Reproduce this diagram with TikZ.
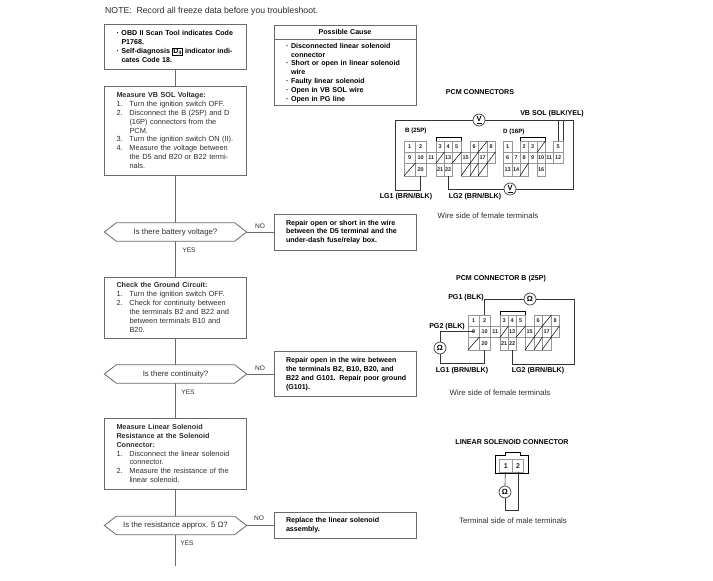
\documentclass[tikz,border=0pt]{standalone}
\usepackage{fontspec}
\setmainfont{Liberation Sans}
\definecolor{ink}{RGB}{45,45,45}
\definecolor{rule}{RGB}{105,105,105}
\definecolor{pin}{RGB}{150,150,150}
\usetikzlibrary{calc,positioning}
\newcommand{\jline}[1]{\makebox[118pt][s]{#1}}
\newcommand{\stepj}[2]{\makebox[13pt][l]{#1}\makebox[105pt][s]{#2}}
\newcommand{\stepl}[2]{\makebox[13pt][l]{#1}#2}
\newcommand{\bulj}[2]{\makebox[5pt][l]{#1}\makebox[113pt][s]{#2}}
\newcommand{\bull}[2]{\makebox[5pt][l]{#1}#2}
\setlength{\fboxrule}{0.4pt}
\setlength{\fboxsep}{0.6pt}
\tikzset{
  stepbox/.style={draw=rule, line width=0.8pt, minimum width=142pt, inner xsep=12pt, inner ysep=0pt, text width=118pt, align=left, text=ink, font=\fontsize{7.4}{8.9}\selectfont},
  boldbox/.style={stepbox, text=black, font=\fontsize{7.1}{8.8}\selectfont\bfseries},
  hexbox/.style={minimum width=142pt, minimum height=18pt, inner sep=0pt, text=ink, font=\fontsize{7.8}{8}\selectfont},
  wire/.style={draw=rule, line width=0.9pt},
  lead/.style={draw=black!80, line width=0.7pt},
  tag/.style={inner sep=0pt, text=ink, font=\fontsize{6.6}{7}\selectfont},
  boldtag/.style={inner sep=0pt, text=black, font=\fontsize{7.1}{7}\selectfont\bfseries},
  captag/.style={inner sep=0pt, text=ink, font=\fontsize{7.8}{8}\selectfont},
  meter/.style={circle, draw=black!75, line width=0.7pt, fill=white, minimum size=12pt, inner sep=0pt, font=\fontsize{7.5}{7}\selectfont\bfseries},
  cell/.style={draw=pin, line width=0.4pt, anchor=north west, inner sep=0pt, minimum height=11pt, font=\fontsize{5.5}{5}\selectfont\bfseries, text=black!85}
}
\newcommand{\connB}[3]{
  \begin{scope}[shift={(#2,#3)}]
    \foreach \n/\cx/\cy/\w/\t in {1/0/0/11/1,2/11/0/11/2,3/32/0/8/3,4/40/0/8/4,5/48/0/9/5,6/66/0/8/6,7/74/0/9/,8/83/0/8/8,
      9/0/11/11/9,10/11/11/11/10,11/22/11/10/11,12/32/11/8/,13/40/11/8/13,14/48/11/9/,15/57/11/9/15,16/66/11/8/,17/74/11/9/17,18/83/11/8/}
      \node[cell, minimum width=\w pt] (#1\n) at (\cx,\cy) {\t};
    \foreach \n/\cx/\w/\t in {19/0/11/,20/11/11/20,21/32/8/21,22/40/8/22,23/57/9/,24/66/8/,25/74/9/}
      \node[cell, minimum width=\w pt, minimum height=12.5pt] (#1\n) at (\cx,22) {\t};
    \foreach \n in {7,12,14,16,18,19,23,24,25}
      \draw[pin, line width=0.5pt] (#1\n.south west) -- (#1\n.north east);
    \draw[pin, line width=0.5pt] (#13.north west) -- ++(0,-4) -| (#15.north east);
  \end{scope}
}
\begin{document}
\begin{tikzpicture}[x=1pt,y=-1pt]
  \useasboundingbox (0,0) rectangle (713,581);

  \node[anchor=west, inner sep=0pt, text=ink, font=\fontsize{8.7}{9}\selectfont] (note) at (105,11) {NOTE:\ \ Record all freeze data before you troubleshoot.};

  \node[boldbox, minimum height=45pt] (scan) at (175.5,46.5) {
    \bulj{·}{OBD II Scan Tool indicates Code}\\
    \hspace*{5pt}P1768.\\
    \bulj{·}{Self-diagnosis \fbox{D\textsubscript{4}} indicator indi-}\\
    \hspace*{5pt}cates Code 18.};
  \node[stepbox, minimum height=89pt] (volt) at (175.5,130.5) {
    {\bfseries\fontsize{7.2}{8.9}\selectfont Measure VB SOL Voltage:}\\
    \stepl{1.}{Turn the ignition switch OFF.}\\
    \stepj{2.}{Disconnect the B (25P) and D}\\
    \stepj{}{(16P) connectors from the}\\
    \stepl{}{PCM.}\\
    \stepj{3.}{Turn the ignition switch ON (II).}\\
    \stepj{4.}{Measure the voltage between}\\
    \stepj{}{the D5 and B20 or B22 termi-}\\
    \stepl{}{nals.}};
  \node[hexbox] (battery) at (175.5,232) {Is there battery voltage?};
  \node[stepbox, minimum height=61pt] (ground) at (175.5,307.5) {
    {\bfseries\fontsize{7.2}{8.9}\selectfont Check the Ground Circuit:}\\
    \stepl{1.}{Turn the ignition switch OFF.}\\
    \stepj{2.}{Check for continuity between}\\
    \stepj{}{the terminals B2 and B22 and}\\
    \stepj{}{between terminals B10 and}\\
    \stepl{}{B20.}};
  \node[hexbox] (contin) at (175.5,374) {Is there continuity?};
  \node[stepbox, minimum height=71pt] (resist) at (175.5,453.5) {
    {\bfseries\fontsize{7.2}{8.9}\selectfont\jline{Measure Linear Solenoid}\\
    \jline{Resistance at the Solenoid}\\
    Connector:}\\
    \stepj{1.}{Disconnect the linear solenoid}\\
    \stepl{}{connector.}\\
    \stepj{2.}{Measure the resistance of the}\\
    \stepl{}{linear solenoid.}};
  \node[hexbox] (ohms) at (175.5,525.5) {Is the resistance approx. 5 Ω?};
  \coordinate (trunkend) at (175.5,566);

  \foreach \h in {battery,contin,ohms}
    \draw[draw=rule, line width=0.8pt] (\h.west) -- ([xshift=12pt]\h.north west) -- ([xshift=-12pt]\h.north east) -- (\h.east) -- ([xshift=-12pt]\h.south east) -- ([xshift=12pt]\h.south west) -- cycle;

  \draw[wire] (scan) -- (volt);
  \draw[wire] (volt) -- (battery);
  \draw[wire] (battery) -- (ground);
  \draw[wire] (ground) -- (contin);
  \draw[wire] (contin) -- (resist);
  \draw[wire] (resist) -- (ohms);
  \draw[wire] (ohms) -- (trunkend);

  \node[boldbox, minimum height=14pt, align=center] (causehead) at (345,32) {Possible Cause};
  \node[boldbox, minimum height=66pt, below=0pt of causehead] (cause) {
    \bulj{·}{Disconnected linear solenoid}\\
    \hspace*{5pt}connector\\
    \bulj{·}{Short or open in linear solenoid}\\
    \hspace*{5pt}wire\\
    \bull{·}{Faulty linear solenoid}\\
    \bull{·}{Open in VB SOL wire}\\
    \bull{·}{Open in PG line}};

  \node[boldbox, minimum height=36pt] (repaira) at (345,232) {
    \jline{Repair open or short in the wire}\\
    \jline{between the D5 terminal and the}\\
    under-dash fuse/relay box.};
  \node[boldbox, minimum height=45pt] (repairb) at (345,374) {
    \jline{Repair open in the wire between}\\
    \jline{the terminals B2, B10, B20, and}\\
    \jline{B22 and G101. Repair poor ground}\\
    (G101).};
  \node[boldbox, minimum height=26pt] (repairc) at (345,525.5) {
    \jline{Replace the linear solenoid}\\
    assembly.};

  \draw[wire] (battery.east) -- (repaira.west);
  \draw[wire] (contin.east) -- (repairb.west);
  \draw[wire] (ohms.east) -- (repairc.west);

  \node[tag] (noa) at (260,226) {NO};
  \node[tag] (nob) at (260,368) {NO};
  \node[tag] (noc) at (259,518) {NO};
  \node[tag] (yesa) at (189,250) {YES};
  \node[tag] (yesb) at (188,392) {YES};
  \node[tag] (yesc) at (187,543) {YES};

  \node[boldtag] (pcmtitle) at (480,92) {PCM CONNECTORS};
  \node[boldtag] (vbsol) at (552,114) {VB SOL (BLK/YEL)};
  \node[boldtag, anchor=west, font=\fontsize{6.2}{7}\selectfont\bfseries] (blabel) at (405,131) {B (25P)};
  \node[boldtag, anchor=west, font=\fontsize{6.2}{7}\selectfont\bfseries] (dlabel) at (503,132) {D (16P)};
  \connB{b}{404}{141}
  \begin{scope}[shift={(503,141)}]
    \foreach \n/\cx/\cy/\w/\t in {1/0/0/9/1,2/17/0/8/2,3/25/0/9/3,4/34/0/8/,5/50/0/10/5,
      6/0/11/9/6,7/9/11/8/7,8/17/11/8/8,9/25/11/9/9,10/34/11/8/10,11/42/11/8/11,12/50/11/10/12}
      \node[cell, minimum width=\w pt] (d\n) at (\cx,\cy) {\t};
    \foreach \n/\cx/\w/\t in {13/0/9/13,14/9/8/14,15/17/8/,16/34/8/16}
      \node[cell, minimum width=\w pt, minimum height=12.5pt] (d\n) at (\cx,22) {\t};
    \foreach \n in {4,15}
      \draw[pin, line width=0.5pt] (d\n.south west) -- (d\n.north east);
    \draw[pin, line width=0.5pt] (d2.north west) -- ++(0,-4) -| (d4.north east);
  \end{scope}
  \node[meter] (va) at (479,120) {\underline{V}};
  \node[meter] (vb) at (510,189) {\underline{V}};
  \coordinate (lgleft) at (395,190);
  \coordinate (vbright) at (573,189);
  \draw[lead] (b20.south) |- (lgleft) |- (va.west);
  \draw[lead] (va.east) -| (d5.north);
  \draw[lead] (va.east) -| (vbright) -- (vb.east);
  \draw[lead] (d5.north east) -- (d5.north east |- va.east);
  \draw[lead] (b22.south) |- (vb.west);
  \node[boldtag] (lga) at (406,197) {LG1 (BRN/BLK)};
  \node[boldtag] (lgb) at (475,197) {LG2 (BRN/BLK)};
  \node[captag] (capa) at (488,216) {Wire side of female terminals};

  \node[boldtag] (pcmb) at (501,279) {PCM CONNECTOR B (25P)};
  \connB{p}{468}{315}
  \node[meter] (oa) at (530,299) {Ω};
  \node[meter] (ob) at (440,348) {Ω};
  \coordinate (pgright) at (574,364);
  \coordinate (pgdown) at (440,363);
  \node[boldtag] (pga) at (466,298) {PG1 (BLK)};
  \node[boldtag] (pgb) at (447,327) {PG2 (BLK)};
  \draw[lead] (p2.north) |- (oa.west);
  \draw[lead] (oa.east) -| (pgright) -| (p22.south);
  \draw[lead] (ob.north) |- (p9.center);
  \draw[lead] (ob.south) -- (pgdown) -| (p20.south);
  \node[boldtag] (lgc) at (462,371) {LG1 (BRN/BLK)};
  \node[boldtag] (lgd) at (538,371) {LG2 (BRN/BLK)};
  \node[captag] (capb) at (500,393) {Wire side of female terminals};

  \node[boldtag] (soltitle) at (512,442) {LINEAR SOLENOID CONNECTOR};
  \node[cell, minimum width=13pt, minimum height=13pt, font=\fontsize{7}{7}\selectfont\bfseries] (sa) at (499,459) {1};
  \node[cell, minimum width=11pt, minimum height=13pt, font=\fontsize{7}{7}\selectfont\bfseries, right=0pt of sa, anchor=west] (sb) {2};
  \draw[pin, line width=0.6pt] (495,473) -- (495,455) -- (505,455) -- (505,452) -- (520,452) -- (520,455) -- (528,455) -- (528,473) -- cycle;
  \node[meter] (oc) at (505,492) {Ω};
  \coordinate (solend) at (505,510);
  \draw[lead] ([xshift=-0.5pt]sa.south) -- (oc);
  \draw[lead] (oc) -- (solend) -| (sb.south);
  \node[captag] (capc) at (513,521) {Terminal side of male terminals};
\end{tikzpicture}
\end{document}
